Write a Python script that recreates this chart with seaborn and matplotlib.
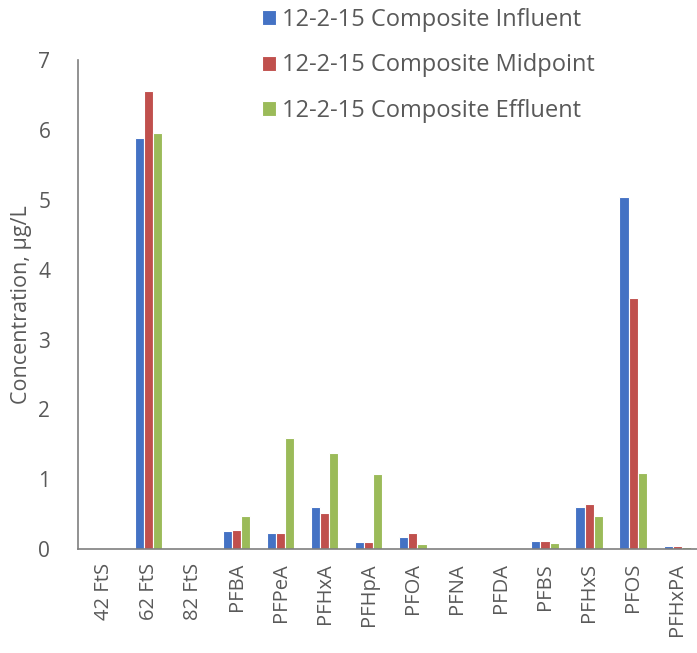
import pandas as pd
import seaborn as sns
import matplotlib.pyplot as plt

# Data
compounds = ['42 FtS', '62 FtS', '82 FtS', 'PFBA', 'PFPeA', 'PFHxA', 'PFHpA', 'PFOA',
             'PFNA', 'PFDA', 'PFBS', 'PFHxS', 'PFOS', 'PFHxPA']
influent = [0.0, 5.88, 0.0, 0.26, 0.23, 0.61, 0.10, 0.18, 0.005, 0.01, 0.11, 0.61, 5.04, 0.04]
midpoint = [0.0, 6.56, 0.0, 0.27, 0.23, 0.52, 0.10, 0.23, 0.0, 0.005, 0.11, 0.64, 3.59, 0.04]
effluent = [0.0, 5.96, 0.0, 0.47, 1.59, 1.38, 1.08, 0.08, 0.0, 0.0, 0.09, 0.47, 1.09, 0.03]
series = ['12-2-15 Composite Influent', '12-2-15 Composite Midpoint', '12-2-15 Composite Effluent']
colors = ['#4472C4', '#C0504D', '#9BBB59']

df = pd.DataFrame({'compound': compounds * 3,
                   'sample': [series[0]] * 14 + [series[1]] * 14 + [series[2]] * 14,
                   'value': influent + midpoint + effluent})

sns.set_style('white')
plt.rcParams['font.family'] = ['Open Sans', 'DejaVu Sans']
txt = '#595959'

fig = plt.figure(figsize=(6.97, 6.53), dpi=100)
ax = fig.add_axes([0.112, 0.159, 0.888, 0.749])
sns.barplot(data=df, x='compound', y='value', hue='sample', palette=colors,
            width=0.62, edgecolor='white', linewidth=0.8, saturation=1, ax=ax)

ax.set_ylim(0, 7)
ax.set_xlim(-0.6, 13.45)
ax.set_yticks(range(8))
ax.tick_params(axis='y', length=0, labelsize=15, colors=txt, pad=20)
ax.tick_params(axis='x', length=0, labelsize=14.5, colors=txt, rotation=90, pad=10)
ax.set_xlabel('')
ax.set_ylabel('Concentration, μg/L', fontsize=15.5, color=txt)
ax.yaxis.set_label_coords(-0.075, 0.5)
for s in ['top', 'right']:
    ax.spines[s].set_visible(False)
for s in ['left', 'bottom']:
    ax.spines[s].set_color('#7f7f7f')
    ax.spines[s].set_linewidth(1.2)

handles, labels = ax.get_legend_handles_labels()
ax.legend(handles, labels, loc='upper left', bbox_to_anchor=(0.345, 1.02),
          bbox_transform=fig.transFigure, frameon=False, fontsize=17,
          labelcolor=txt, handlelength=0.6, handleheight=0.6, handletextpad=0.25,
          labelspacing=0.9)

fig.savefig('out.png', dpi=100)
